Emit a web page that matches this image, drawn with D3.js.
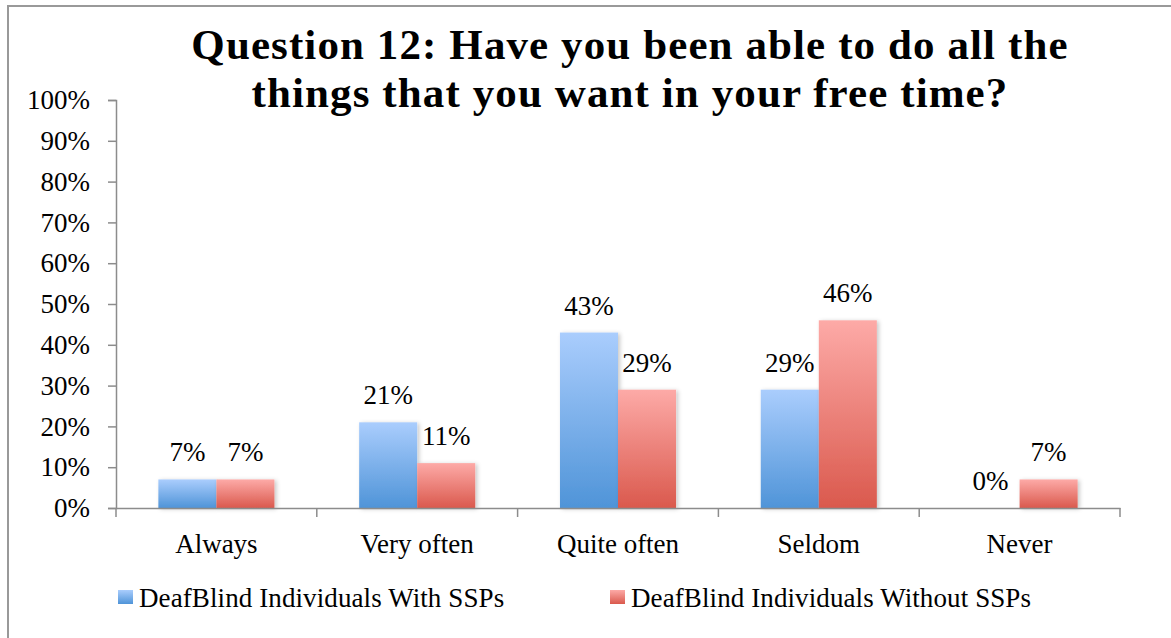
<!DOCTYPE html>
<html>
<head>
<meta charset="utf-8">
<script src="https://cdn.jsdelivr.net/npm/d3@7"></script>
<style>
  html, body { margin: 0; padding: 0; background: #fff; }
  svg { display: block; }
  text { font-family: "Liberation Serif", "Times New Roman", serif; fill: #000; }
</style>
</head>
<body>
<svg id="chart" width="1171" height="638"></svg>
<script>
// Survey answers, share of respondents per group
const categories = ["Always", "Very often", "Quite often", "Seldom", "Never"];
const seriesNames = ["DeafBlind Individuals With SSPs", "DeafBlind Individuals Without SSPs"];
const withSSPs = [7, 21, 43, 29, 0];
const withoutSSPs = [7, 11, 29, 46, 7];
const yTicks = [0, 10, 20, 30, 40, 50, 60, 70, 80, 90, 100];
const titleLines = ["Question 12: Have you been able to do all the", "things that you want in your free time?"];

const series = [withSSPs, withoutSSPs];
const keys = ["with", "without"];

const svg = d3.select("#chart");
const W = 1171, H = 638;
const plot = { left: 116, right: 1120, top: 100, bottom: 508 };
const FS = "27px";

// outer frame
svg.append("rect")
  .attr("x", 8).attr("y", 6)
  .attr("width", W + 20).attr("height", H + 20)
  .attr("fill", "none").attr("stroke", "#999").attr("stroke-width", 2);

const defs = svg.append("defs");
const grads = [
  { id: "gWith", top: "#aacdfd", bottom: "#4f94d8" },
  { id: "gWithout", top: "#fdaaa7", bottom: "#da594d" }
];
grads.forEach(g => {
  const lg = defs.append("linearGradient").attr("id", g.id)
    .attr("x1", 0).attr("y1", 0).attr("x2", 0).attr("y2", 1);
  lg.append("stop").attr("offset", "0%").attr("stop-color", g.top);
  lg.append("stop").attr("offset", "100%").attr("stop-color", g.bottom);
});
const sh = defs.append("filter").attr("id", "shadow")
  .attr("x", "-20%").attr("y", "-20%").attr("width", "140%").attr("height", "140%");
sh.append("feDropShadow").attr("dx", 2).attr("dy", 1).attr("stdDeviation", 2)
  .attr("flood-color", "#000").attr("flood-opacity", 0.22);

const y = d3.scaleLinear().domain([0, 100]).range([plot.bottom, plot.top]);
const x0 = d3.scaleBand().domain(categories).range([plot.left, plot.right]).padding(0);
const inner = x0.bandwidth() * 0.578;
const x1 = d3.scaleBand().domain(keys)
  .range([(x0.bandwidth() - inner) / 2, (x0.bandwidth() + inner) / 2]).padding(0);

// title
const title = svg.append("text")
  .attr("text-anchor", "middle")
  .style("font-weight", "bold").style("font-size", "43px")
  .style("letter-spacing", "1.1px");
titleLines.forEach((t, i) => {
  title.append("tspan").attr("x", 630).attr("y", 59 + i * 48).text(t);
});

// y axis
const yAxis = d3.axisLeft(y).tickValues(yTicks).tickFormat(d => d + "%").tickSize(8).tickPadding(18);
const gy = svg.append("g").attr("transform", `translate(${plot.left},0)`).call(yAxis);
gy.select(".domain").attr("stroke", "#8c8c8c").attr("stroke-width", 1.5);
gy.selectAll(".tick line").attr("stroke", "#8c8c8c").attr("stroke-width", 1.5);
gy.selectAll(".tick text").style("font-size", FS)
  .style("font-family", "'Liberation Serif', serif").attr("fill", "#000");

// bars
const groups = svg.append("g").selectAll("g")
  .data(categories).join("g")
  .attr("transform", d => `translate(${x0(d)},0)`);

groups.each(function(cat, ci) {
  const g = d3.select(this);
  keys.forEach((k, si) => {
    const v = series[si][ci];
    if (v > 0) {
      g.append("rect")
        .attr("x", x1(k)).attr("width", x1.bandwidth())
        .attr("y", y(v)).attr("height", y(0) - y(v))
        .attr("fill", `url(#${grads[si].id})`)
        .attr("filter", "url(#shadow)");
    }
  });
});

// data labels
groups.each(function(cat, ci) {
  const g = d3.select(this);
  keys.forEach((k, si) => {
    const v = series[si][ci];
    g.append("text")
      .attr("x", x1(k) + x1.bandwidth() / 2)
      .attr("y", y(v) - 18)
      .attr("text-anchor", "middle")
      .style("font-size", FS)
      .text(v + "%");
  });
});

// x axis drawn on top of the bars
const xAxis = d3.axisBottom(x0).tickSize(0).tickPadding(0).tickFormat("");
const gx = svg.append("g").attr("transform", `translate(0,${plot.bottom})`).call(xAxis);
gx.select(".domain").attr("stroke", "#8c8c8c").attr("stroke-width", 1.5);
gx.selectAll(".tick").remove();
const boundaries = categories.map(c => x0(c)).concat([plot.right]);
gx.selectAll("line.sep").data(boundaries).join("line").attr("class", "sep")
  .attr("x1", d => d).attr("x2", d => d).attr("y1", 0).attr("y2", 9)
  .attr("stroke", "#8c8c8c").attr("stroke-width", 1.5);
gx.selectAll("text.cat").data(categories).join("text").attr("class", "cat")
  .attr("x", d => x0(d) + x0.bandwidth() / 2).attr("y", 45)
  .attr("text-anchor", "middle").style("font-size", FS)
  .text(d => d);

// legend
const legendPos = [118, 610];
const legend = svg.append("g").selectAll("g").data(seriesNames).join("g")
  .attr("transform", (d, i) => `translate(${legendPos[i]},590)`);
legend.append("rect").attr("width", 15).attr("height", 14)
  .attr("fill", (d, i) => `url(#${grads[i].id})`);
legend.append("text").attr("x", 21).attr("y", 17)
  .style("font-size", FS).style("letter-spacing", "0.1px").text(d => d);
</script>
</body>
</html>
